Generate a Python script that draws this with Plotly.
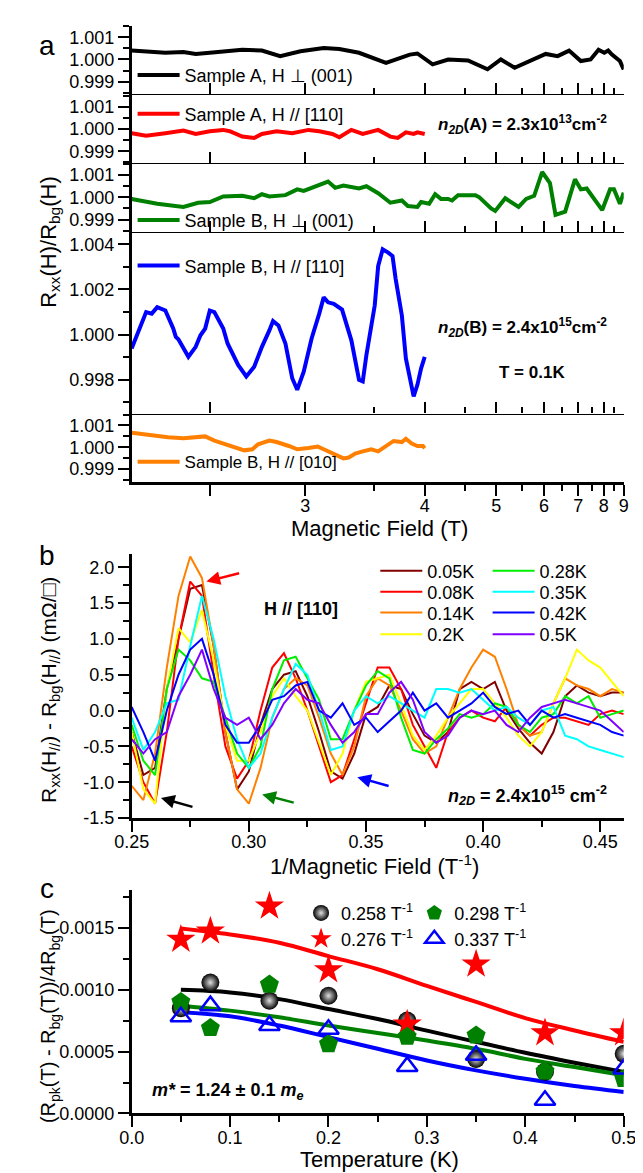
import plotly.graph_objects as go

FONT = "Liberation Sans, Arial, Helvetica, sans-serif"

# ===================== Panel a data (field in T, R/Rbg) =====================
a_field_A_perp = [2.20, 2.25, 2.32, 2.39, 2.44, 2.50, 2.65, 2.75, 2.85, 2.97, 3.12, 3.23, 3.38, 3.61,
                  3.84, 3.92, 4.09, 4.28, 4.55, 4.85, 5.08, 5.34, 5.76, 6.04, 6.36, 6.70, 7.09, 7.45,
                  7.77, 8.02, 8.20, 8.38, 8.79, 9.00]
a_ratio_A_perp = [1.00040, 1.00037, 1.00030, 1.00034, 1.00025, 1.00030, 1.00044, 1.00040, 1.00015,
                  1.00037, 1.00052, 1.00047, 1.00030, 0.99985, 1.00022, 1.00027, 0.99978, 1.00000,
                  0.99996, 0.99956, 1.00000, 0.99963, 1.00000, 1.00025, 1.00015, 1.00040, 0.99993,
                  1.00000, 1.00044, 1.00030, 1.00040, 1.00022, 0.99993, 0.99956]

a_field_A_par110 = [2.20, 2.25, 2.32, 2.39, 2.44, 2.50, 2.56, 2.59, 2.65, 2.71, 2.75, 2.83, 2.92, 3.02,
                    3.09, 3.18, 3.23, 3.32, 3.41, 3.54, 3.65, 3.72, 3.80, 3.88, 3.92, 4.00]
a_ratio_A_par110 = [0.99981, 0.99970, 0.99981, 0.99993, 0.99978, 0.99990, 0.99996, 0.99990, 0.99966,
                    0.99960, 0.99978, 0.99990, 0.99981, 0.99996, 0.99990, 0.99978, 0.99963, 0.99996,
                    0.99978, 0.99996, 0.99966, 0.99960, 0.99985, 0.99978, 0.99985, 0.99978]

a_field_B_perp = [2.20, 2.29, 2.39, 2.45, 2.50, 2.56, 2.65, 2.71, 2.75, 2.79, 2.88, 2.95, 2.99, 3.15,
                  3.20, 3.26, 3.38, 3.44, 3.54, 3.65, 3.76, 3.82, 3.92, 3.96, 4.05, 4.12, 4.19, 4.28,
                  4.33, 4.41, 4.66, 4.72, 4.91, 4.98, 5.16, 5.26, 5.42, 5.58, 5.76, 5.95, 6.15, 6.30,
                  6.58, 6.89, 7.09, 7.30, 7.45, 7.77, 7.93, 8.29, 8.48, 8.79, 9.00]
a_ratio_B_perp = [0.99993, 0.99971, 0.99957, 0.99976, 0.99979, 1.00004, 1.00007, 0.99996, 1.00014,
                  1.00004, 1.00010, 1.00036, 1.00029, 1.00071, 1.00043, 1.00053, 1.00040, 1.00050,
                  1.00019, 0.99976, 0.99986, 0.99961, 0.99957, 0.99979, 0.99971, 1.00014, 0.99993,
                  0.99993, 0.99986, 1.00010, 1.00010, 1.00000, 0.99950, 0.99939, 0.99996, 0.99979,
                  0.99957, 0.99993, 1.00007, 1.00114, 1.00064, 0.99921, 0.99936, 1.00081, 1.00036,
                  1.00040, 1.00014, 0.99967, 0.99943, 1.00036, 1.00036, 0.99971, 1.00021]

a_field_B_par110 = [2.20, 2.25, 2.27, 2.29, 2.32, 2.35, 2.36, 2.37, 2.41, 2.44, 2.46, 2.48, 2.50, 2.52,
                    2.56, 2.58, 2.63, 2.67, 2.71, 2.75, 2.79, 2.81, 2.84, 2.88, 2.92, 2.95, 2.99, 3.04,
                    3.09, 3.12, 3.15, 3.19, 3.25, 3.29, 3.32, 3.38, 3.41, 3.44, 3.48, 3.51, 3.54, 3.58,
                    3.63, 3.67, 3.70, 3.76, 3.80, 3.88, 3.92, 3.96, 4.00]
a_ratio_B_par110 = [0.99939, 1.00100, 1.00093, 1.00122, 1.00107, 1.00028, 0.99990, 0.99980, 0.99902,
                    0.99946, 0.99997, 1.00027, 1.00107, 1.00100, 1.00027, 0.99961, 0.99866, 0.99815,
                    0.99858, 0.99946, 1.00019, 1.00060, 1.00041, 0.99961, 0.99807, 0.99756, 0.99836,
                    0.99983, 1.00093, 1.00165, 1.00143, 1.00136, 1.00111, 1.00034, 0.99975, 0.99800,
                    0.99793, 0.99910, 1.00041, 1.00129, 1.00304, 1.00378, 1.00363, 1.00348, 1.00246,
                    1.00085, 0.99895, 0.99727, 0.99778, 0.99851, 0.99902]

a_field_B_par010 = [2.20, 2.25, 2.29, 2.33, 2.39, 2.45, 2.48, 2.52, 2.58, 2.61, 2.66, 2.70, 2.73, 2.79,
                    2.83, 2.90, 2.95, 3.02, 3.08, 3.12, 3.18, 3.26, 3.30, 3.35, 3.41, 3.48, 3.54, 3.61,
                    3.68, 3.76, 3.80, 3.86, 3.92, 3.98, 4.00]
a_ratio_B_par010 = [1.00067, 1.00057, 1.00049, 1.00046, 1.00041, 1.00046, 1.00050, 1.00031, 1.00010,
                    1.00000, 0.99986, 0.99991, 1.00014, 1.00031, 1.00024, 1.00006, 0.99991, 0.99997,
                    1.00003, 0.99991, 0.99971, 0.99949, 0.99953, 0.99971, 0.99981, 0.99991, 0.99981,
                    1.00003, 1.00029, 1.00024, 1.00039, 1.00017, 1.00006, 1.00006, 0.99996]

a_tick_fields = [2.5, 3, 4, 5, 6, 7, 8, 9]
a_tick_labels = ["", "3", "4", "5", "6", "7", "8", "9"]
a_minor_fields = [3.5, 4.5, 5.5, 6.5, 7.5, 8.5]

# ===================== Panel b data (1/B in 1/T, dR in mOhm) =====================
b_inv_field = [0.250, 0.255, 0.260, 0.265, 0.270, 0.275, 0.280, 0.285, 0.290, 0.295, 0.300,
               0.305, 0.310, 0.315, 0.320, 0.325, 0.330, 0.335, 0.340, 0.345, 0.350, 0.355,
               0.360, 0.365, 0.370, 0.375, 0.380, 0.385, 0.390, 0.395, 0.400, 0.405, 0.410,
               0.415, 0.420, 0.425, 0.430, 0.435, 0.440, 0.445, 0.450, 0.455, 0.460]
b_temp_labels = ["0.05K", "0.08K", "0.14K", "0.2K", "0.28K", "0.35K", "0.42K", "0.5K"]
b_dR_005 = [-0.3, -0.9, -0.8, 0.3, 1.0, 1.7, 1.75, 0.9, -0.3, -1.1, -0.85, -0.2, 0.3, 0.5, 0.55,
            0.2, -0.3, -0.85, -0.95, -0.6, -0.05, 0.05, 0.35, 0.3, -0.05, -0.35, -0.45, -0.3, 0.3,
            0.4, 0.3, 0.4, 0.0, -0.25, -0.45, -0.6, -0.3, 0.2, 0.35, 0.25, 0.2, 0.25, 0.25]
b_dR_008 = [-0.5, -1.0, -1.3, -0.3, 1.0, 1.8, 1.6, 0.5, -0.5, -0.95, -0.7, 0.0, 0.6, 0.8, 0.45,
            0.0, -0.5, -1.0, -0.9, -0.4, 0.1, 0.6, 0.6, 0.3, -0.2, -0.5, -0.8, -0.3, -0.1, 0.0,
            -0.1, -0.15, 0.05, -0.2, -0.35, -0.2, -0.1, -0.1, -0.15, -0.2, -0.05, 0.0, -0.05]
b_dR_014 = [-1.05, -1.25, -0.6, 0.6, 1.6, 2.15, 1.85, 0.9, -0.3, -1.1, -1.3, -0.8, -0.1, 0.3,
            0.45, 0.35, -0.1, -0.6, -0.9, -0.5, 0.2, 0.45, 0.35, 0.0, -0.4, -0.6, -0.5, -0.1, 0.3,
            0.6, 0.85, 0.75, 0.3, -0.2, -0.35, -0.3, 0.1, 0.45, 0.35, 0.3, 0.2, 0.3, 0.25]
b_dR_020 = [-0.3, -1.1, -1.3, 0.3, 1.15, 0.95, 1.4, 0.7, -0.2, -0.7, -0.7, -0.3, 0.2, 0.45, 0.2,
            0.0, -0.45, -0.9, -0.6, 0.0, 0.4, 0.45, 0.5, 0.1, -0.35, -0.55, -0.35, -0.1, 0.1, 0.3,
            0.3, 0.1, -0.1, -0.35, -0.5, -0.3, 0.1, 0.45, 0.85, 0.7, 0.6, 0.4, 0.2]
b_dR_028 = [-0.2, -0.7, -0.9, 0.3, 0.85, 0.7, 0.45, 0.4, -0.1, -0.6, -0.8, -0.5, 0.3, 0.7, 0.75,
            0.45, 0.15, -0.4, -0.4, 0.0, 0.35, 0.55, 0.45, -0.1, -0.55, -0.6, -0.4, -0.25, -0.05,
            -0.1, -0.05, 0.1, 0.05, -0.2, -0.3, -0.1, -0.05, 0.2, 0.1, 0.2, -0.1, -0.05, 0.0]
b_dR_035 = [-0.1, -0.55, -0.3, 0.1, 0.15, 0.9, 1.6, 1.0, 0.2, -0.4, -0.8, -0.6, -0.1, 0.3, 0.65,
            0.5, 0.0, -0.55, -0.5, 0.0, 0.2, 0.1, 0.2, 0.1, 0.0, -0.1, 0.3, 0.3, 0.25, 0.3, 0.15,
            0.0, 0.05, -0.1, -0.2, 0.0, 0.05, -0.35, -0.4, -0.5, -0.55, -0.6, -0.65]
b_dR_042 = [0.05, -0.3, -0.7, 0.0, 0.5, 0.85, 1.0, 0.5, -0.2, -0.45, -0.45, -0.2, 0.15, 0.2,
            0.35, 0.4, 0.0, -0.1, 0.1, -0.2, -0.1, -0.3, -0.15, 0.0, 0.25, 0.0, 0.1, -0.1, 0.0,
            0.1, 0.25, 0.05, -0.05, 0.0, -0.2, 0.0, -0.1, -0.05, -0.1, -0.15, -0.2, -0.3, -0.35]
b_dR_050 = [-0.4, -0.6, -0.4, -0.3, 0.2, 0.5, 0.85, 0.3, -0.1, -0.2, -0.1, -0.4, -0.2, 0.1, 0.3,
            0.15, 0.1, -0.2, -0.45, -0.3, -0.05, -0.05, 0.25, 0.4, 0.15, -0.3, -0.45, -0.35, -0.1,
            0.0, -0.05, 0.0, -0.2, -0.3, -0.1, 0.05, 0.1, 0.15, 0.1, 0.05, 0.0, -0.15, -0.3]
b_colors = ["#800000", "#FF0000", "#FF8000", "#FFFF00", "#00EE00", "#00FFFF", "#0000FF", "#8000FF"]

# ===================== Panel c data =====================
c_temperature = [0.05, 0.08, 0.14, 0.20, 0.28, 0.35, 0.42, 0.50]
c_amp_0258 = [0.00085, 0.001057, 0.00091, 0.00095, 0.00075, 0.00044, 0.000337, 0.000482]
c_amp_0276 = [0.001404, 0.001471, 0.001672, 0.001158, 0.00072, 0.001204, 0.00065, 0.00065]
c_amp_0298 = [0.00090, 0.00069, 0.00104, 0.00056, 0.00062, 0.00063, 0.00034, 0.00028]
c_amp_0337 = [0.00078, 0.00087, 0.00071, 0.00068, 0.00038, 0.00047, 0.000107, 0.00036]
c_fit_T = [0.05, 0.10, 0.15, 0.20, 0.25, 0.30, 0.35, 0.40, 0.45, 0.50]
c_fit_0258 = [0.000998, 0.000977, 0.000923, 0.000843, 0.000762, 0.000669, 0.000578, 0.00049, 0.00041, 0.000334]
c_fit_0276 = [0.001493, 0.001445, 0.001378, 0.00127, 0.001164, 0.00103, 0.0009, 0.00077, 0.00067, 0.000578]
c_fit_0298 = [0.00087, 0.00083, 0.000776, 0.00071, 0.00065, 0.000589, 0.000522, 0.000441, 0.000375, 0.000308]
c_fit_0337 = [0.000816, 0.000784, 0.00071, 0.000616, 0.000522, 0.000428, 0.000348, 0.00028, 0.000222, 0.000174]

# ===================== layout helpers =====================
W, H = 643, 1173
XL, XR = 111, 628
XDOM = [XL / W, XR / W]


def fy(px):
    return 1 - px / H


def fx(px):
    return px / W


FRAME_W = 2.5
THIN_W = 1.2
TICK_W = 2
MAJ_LEN = 11
MIN_LEN = 6
TICKFONT = dict(family=FONT, size=18, color="black")

layout = dict(width=W, height=H, margin=dict(l=0, r=0, t=0, b=0, pad=0),
              paper_bgcolor="white", plot_bgcolor="white",
              font=dict(family=FONT, size=16, color="black"), showlegend=True)
annotations = []


def ax_key(letter, k):
    return f"{letter}axis" if k == 1 else f"{letter}axis{k}"


def ax_ref(letter, k):
    return letter if k == 1 else f"{letter}{k}"


def add_panel(n, top_px, bot_px, xr, yr, xmaj, xmin, ymaj, ymin, top_lw, bot_lw, bot_out, show_x):
    m, o = 2 * n - 1, 2 * n
    common = dict(showgrid=False, zeroline=False, showline=True, linecolor="black",
                  tickcolor="black", tickwidth=TICK_W, ticklen=MAJ_LEN, tickfont=TICKFONT,
                  autorange=False, fixedrange=True)

    def minor(spec, d):
        return dict(spec, ticks=d, ticklen=MIN_LEN, tickwidth=TICK_W, tickcolor="black", showgrid=False)

    bd = "outside" if bot_out else "inside"
    layout[ax_key("x", m)] = dict(common, domain=XDOM, range=xr, anchor=ax_ref("y", m), side="bottom",
                                  linewidth=bot_lw, ticks=bd, showticklabels=show_x,
                                  ticklabelstandoff=-5, minor=minor(xmin, bd), **xmaj)
    layout[ax_key("x", o)] = dict(common, range=xr, overlaying=ax_ref("x", m), anchor=ax_ref("y", m),
                                  side="top", linewidth=top_lw, ticks="inside", showticklabels=False,
                                  minor=minor(xmin, "inside"), **xmaj)
    layout[ax_key("y", m)] = dict(common, domain=[fy(bot_px), fy(top_px)], range=yr, anchor=ax_ref("x", m),
                                  side="left", linewidth=FRAME_W, ticks="outside", showticklabels=True,
                                  minor=minor(ymin, "outside"), **ymaj)
    layout[ax_key("y", o)] = dict(common, range=yr, overlaying=ax_ref("y", m), anchor=ax_ref("x", m),
                                  side="right", linewidth=FRAME_W, ticks="inside", showticklabels=False,
                                  minor=minor(ymin, "inside"), **ymaj)
    return ax_ref("x", m), ax_ref("y", m)


legend_count = [0]


def new_legend(text_left_px, row_px, size, itemwidth=30):
    # plotly puts the legend text at itemwidth + 10 px from the legend's left edge
    legend_count[0] += 1
    k = legend_count[0]
    name = "legend" if k == 1 else f"legend{k}"
    layout[name] = dict(x=fx(text_left_px - itemwidth - 10), y=fy(row_px), xanchor="left", yanchor="middle",
                        xref="paper", yref="paper", bgcolor="rgba(0,0,0,0)", borderwidth=0,
                        font=dict(family=FONT, size=size, color="black"), itemwidth=itemwidth,
                        tracegroupgap=0, itemclick=False, itemdoubleclick=False)
    return name


traces = []

# ===================== Panel a =====================
a_xmaj = dict(tickmode="array", tickvals=[1 / b for b in a_tick_fields], ticktext=a_tick_labels)
a_xmin = dict(tickmode="array", tickvals=[1 / b for b in a_minor_fields])
a_xr = [1 / 2.2, 1 / 9.0]
small_ymaj = dict(tickmode="linear", tick0=0.999, dtick=0.001, tickformat=".3f")
small_ymin = dict(tickmode="linear", tick0=0.999, dtick=0.0005)
big_ymaj = dict(tickmode="linear", tick0=0.998, dtick=0.002, tickformat=".3f")
big_ymin = dict(tickmode="linear", tick0=0.997, dtick=0.001)

a_specs = [
    (18, 87, [0.99844, 1.00151], small_ymaj, small_ymin, FRAME_W, THIN_W, False, False,
     a_field_A_perp, a_ratio_A_perp, "#000000", "Sample A, H \u22a5 (001)", 68, 18),
    (87, 156, [0.99849, 1.00156], small_ymaj, small_ymin, THIN_W, THIN_W, False, False,
     a_field_A_par110, a_ratio_A_par110, "#FF0000", "Sample A, H // [110]", 107, 18),
    (156, 226, [0.99844, 1.00156], small_ymaj, small_ymin, THIN_W, THIN_W, False, False,
     a_field_B_perp, a_ratio_B_perp, "#008000", "Sample B, H \u22a5 (001)", 214, 18),
    (226, 409, [0.99651, 1.00454], big_ymaj, big_ymin, THIN_W, THIN_W, False, False,
     a_field_B_par110, a_ratio_B_par110, "#0000FF", "Sample B, H // [110]", 260, 18),
    (409, 478, [0.99841, 1.00155], small_ymaj, small_ymin, THIN_W, FRAME_W, True, True,
     a_field_B_par010, a_ratio_B_par010, "#FF8000", "Sample B, H // [010]", 458, 17),
]
for i, (tp, bp, yr, ymj, ymn, tlw, blw, bout, showx, fld, rat, col, nm, lrow, lsz) in enumerate(a_specs):
    xa, ya = add_panel(i + 1, tp, bp, a_xr, yr, a_xmaj, a_xmin, ymj, ymn, tlw, blw, bout, showx)
    lg = new_legend(164, lrow, lsz, itemwidth=42)
    traces.append(go.Scatter(x=[1 / b for b in fld], y=rat, mode="lines", name=nm,
                             line=dict(color=col, width=4), xaxis=xa, yaxis=ya, legend=lg))

# ===================== Panel b =====================
b_xmaj = dict(tickmode="linear", tick0=0.25, dtick=0.05, tickformat=".2f")
b_xmin = dict(tickmode="linear", tick0=0.25, dtick=0.025)
b_yvals = [-1.5, -1.0, -0.5, 0.0, 0.5, 1.0, 1.5, 2.0]
b_ymaj = dict(tickmode="array", tickvals=b_yvals, ticktext=[f"{v:.1f}" for v in b_yvals])
b_ymin = dict(tickmode="linear", tick0=-1.5, dtick=0.25)
xb, yb = add_panel(6, 551, 817, [0.25, 0.46], [-1.5, 2.18], b_xmaj, b_xmin, b_ymaj, b_ymin,
                   FRAME_W, FRAME_W, True, True)
b_series = [b_dR_005, b_dR_008, b_dR_014, b_dR_020, b_dR_028, b_dR_035, b_dR_042, b_dR_050]
b_leg_pos = [(419, 568), (419, 589), (419, 610), (419, 632), (537, 568), (537, 589), (537, 610), (537, 632)]
for ser, lab, col, (lx, ly) in zip(b_series, b_temp_labels, b_colors, b_leg_pos):
    lg = new_legend(lx, ly, 18, itemwidth=42)
    traces.append(go.Scatter(x=b_inv_field, y=ser, mode="lines", name=lab,
                             line=dict(color=col, width=2), xaxis=xb, yaxis=yb, legend=lg))

# ===================== Panel c =====================
c_xmaj = dict(tickmode="linear", tick0=0, dtick=0.1, tickformat=".1f")
c_xmin = dict(tickmode="linear", tick0=0, dtick=0.05)
c_ymaj = dict(tickmode="linear", tick0=0, dtick=0.0005, tickformat=".4f")
c_ymin = dict(tickmode="linear", tick0=0, dtick=0.00025)
xc, yc = add_panel(7, 890, 1115, [0, 0.5], [0, 0.0018], c_xmaj, c_xmin, c_ymaj, c_ymin,
                   FRAME_W, FRAME_W, True, True)
for fit, col in [(c_fit_0276, "#FF0000"), (c_fit_0258, "#000000"), (c_fit_0298, "#008000"), (c_fit_0337, "#0000FF")]:
    traces.append(go.Scatter(x=c_fit_T, y=fit, mode="lines", line=dict(color=col, width=4, shape="spline"),
                             xaxis=xc, yaxis=yc, showlegend=False, hoverinfo="skip"))

c_marker_specs = [
    (c_amp_0258, "0.258 T<sup>-1</sup>", dict(symbol="circle", size=18, color="#000000",
                                             gradient=dict(type="radial", color="#e0e0e0"),
                                             line=dict(width=0)), 329, 913),
    (c_amp_0276, "0.276 T<sup>-1</sup>", dict(symbol="star", size=22, color="#FF0000", line=dict(width=0)), 329, 939),
    (c_amp_0298, "0.298 T<sup>-1</sup>", dict(symbol="pentagon", size=20, color="#008000", line=dict(width=0)), 448, 913),
    (c_amp_0337, "0.337 T<sup>-1</sup>", dict(symbol="triangle-up-open", size=18, color="#0000FF",
                                             line=dict(width=2.5, color="#0000FF")), 448, 939),
]
for amp, lab, mk, lx, ly in c_marker_specs:
    lg = new_legend(lx, ly, 18)
    traces.append(go.Scatter(x=c_temperature, y=amp, mode="markers", name=lab, marker=mk,
                             xaxis=xc, yaxis=yc, legend=lg))

# ===================== annotations =====================
def txt(text, x, y, size, xanchor="center", yanchor="middle", angle=0):
    annotations.append(dict(text=text, x=fx(x), y=fy(y), xref="paper", yref="paper", showarrow=False,
                            xanchor=xanchor, yanchor=yanchor, textangle=angle,
                            font=dict(family=FONT, size=size, color="black")))


txt("a", 22, 38, 28)
txt("b", 22, 552, 28)
txt("c", 22, 888, 28)
txt("R<sub>xx</sub>(H)/R<sub>bg</sub>(H)", 25, 236, 22, angle=-90)
txt("Magnetic Field (T)", 371, 525, 22)
txt("R<sub>xx</sub>(H<sub>//</sub>) - R<sub>bg</sub>(H<sub>//</sub>) (m\u03a9/\u25a1)", 25, 688, 21, angle=-90)
txt("1/Magnetic Field (T<sup>-1</sup>)", 366, 864, 22)
txt("(R<sub>pk</sub>(T) - R<sub>bg</sub>(T))/4R<sub>bg</sub>(T)", 25, 1017, 20, angle=-90)
txt("Temperature (K)", 371, 1161, 22)
txt("<b><i>n</i><sub><i>2D</i></sub>(A) = 2.3x10<sup>13</sup>cm<sup>-2</sup></b>", 613, 117, 17, xanchor="right")
txt("<b><i>n</i><sub><i>2D</i></sub>(B) = 2.4x10<sup>15</sup>cm<sup>-2</sup></b>", 613, 322, 17, xanchor="right")
txt("<b>T = 0.1K</b>", 532, 368, 17)
txt("<b>H // [110]</b>", 289, 606, 18)
txt("<b><i>n</i><sub><i>2D</i></sub> = 2.4x10<sup>15</sup> cm<sup>-2</sup></b>", 613, 794, 18, xanchor="right")
txt("<b><i>m*</i> = 1.24 \u00b1 0.1 <i>m</i><sub><i>e</i></sub></b>", 130, 1093, 18, xanchor="left")

# arrows in panel b (tail -> head, data coordinates)
b_arrows = [
    ((0.2965, 1.92), (0.2819, 1.80), "#FF0000"),
    ((0.2766, -1.35), (0.2625, -1.22), "#000000"),
    ((0.3198, -1.29), (0.3057, -1.17), "#008000"),
    ((0.3603, -1.06), (0.3463, -0.93), "#0000FF"),
]
for (tx, ty), (hx, hy), col in b_arrows:
    annotations.append(dict(text="", x=hx, y=hy, ax=tx, ay=ty, xref=xb, yref=yb, axref=xb, ayref=yb,
                            showarrow=True, arrowhead=2, arrowsize=1.1, arrowwidth=2.5, arrowcolor=col,
                            standoff=0, startstandoff=0))

layout["annotations"] = annotations

fig = go.Figure(data=traces, layout=layout)
fig.write_html("out.html")
